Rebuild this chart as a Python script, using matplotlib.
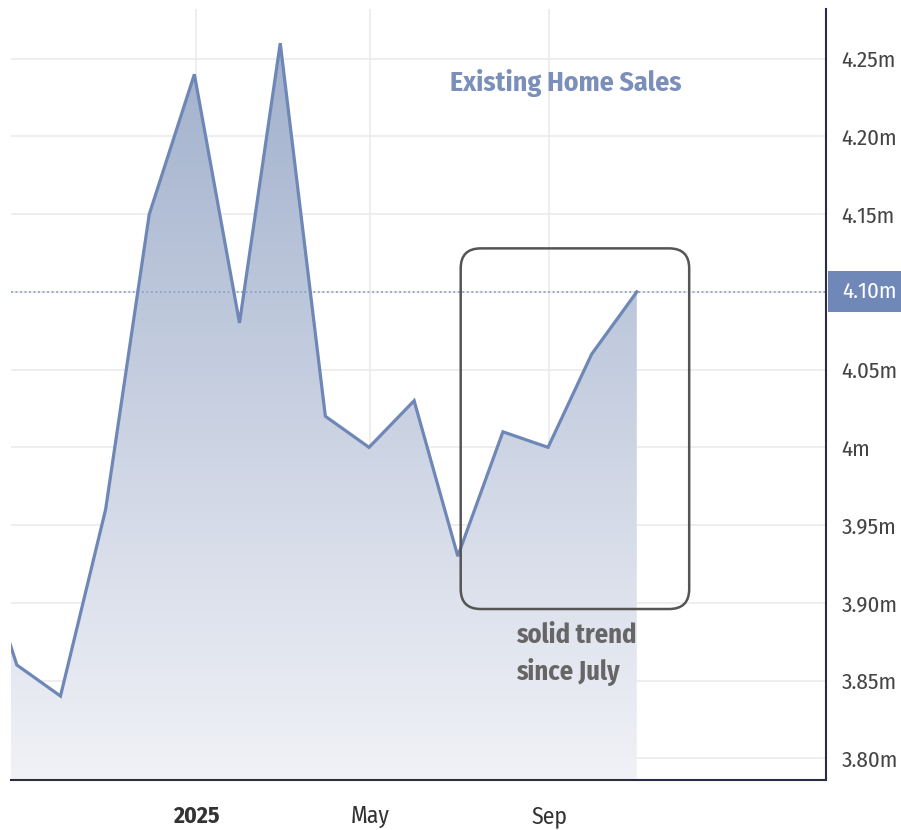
import numpy as np
import pandas as pd
import matplotlib
matplotlib.use('Agg')
import matplotlib.pyplot as plt
import matplotlib.dates as mdates
from matplotlib.patches import FancyBboxPatch, Polygon, Rectangle
from matplotlib.colors import LinearSegmentedColormap

# Monthly existing home sales (millions), plotted at month end
months = pd.date_range('2024-07-31', '2025-10-31', freq='ME')
sales = [3.95, 3.86, 3.84, 3.96, 4.15, 4.24, 4.08, 4.26, 4.02, 4.00,
         4.03, 3.93, 4.01, 4.00, 4.06, 4.10]

ytick_vals = [3.80, 3.85, 3.90, 3.95, 4.00, 4.05, 4.10, 4.15, 4.20, 4.25]
ytick_labels = ['3.80m', '3.85m', '3.90m', '3.95m', '4m', '4.05m', '', '4.15m', '4.20m', '4.25m']
xtick_dates = ['2025-01-01', '2025-05-01', '2025-09-01']
xtick_labels = ['2025', 'May', 'Sep']
last_value = 4.10

plt.rcParams['font.family'] = ['Fira Sans Condensed', 'Roboto Condensed', 'Saira SemiCondensed', 'DejaVu Sans']

LINE = '#6e87b6'
fig = plt.figure(figsize=(9.01, 8.30), dpi=100)
ax = fig.add_axes([11 / 901, 50 / 830, 815 / 901, 771 / 830])

x = mdates.date2num(months)
x0, x1 = mdates.date2num(pd.Timestamp('2024-08-27')), mdates.date2num(pd.Timestamp('2026-03-10'))
y0, y1 = 3.786, 4.282
ax.set_xlim(x0, x1)
ax.set_ylim(y0, y1)

# gradient area under the line
poly = Polygon(np.vstack([np.column_stack([x, sales]), [[x[-1], y0], [x[0], y0]]]),
               closed=True, facecolor='none', edgecolor='none')
ax.add_patch(poly)
cmap = LinearSegmentedColormap.from_list('fill', ['#f1f2f7', '#9dadca'])
grad = np.linspace(0, 1, 256).reshape(-1, 1)
im = ax.imshow(grad, cmap=cmap, aspect='auto', origin='lower',
               extent=[x0, x1, y0, y1], zorder=1)
im.set_clip_path(poly)

ax.plot(x, sales, color=LINE, lw=2.3, zorder=3, solid_joinstyle='miter')
ax.axhline(last_value, color='#8ea2c6', lw=1.3, ls=(0, (1, 1.5)), zorder=2)

# grid
ax.set_yticks(ytick_vals)
ax.set_yticklabels(ytick_labels)
ax.set_xticks(mdates.date2num(pd.to_datetime(xtick_dates)))
ax.set_xticklabels(xtick_labels)
ax.grid(True, color='#ebebeb', lw=1.2, zorder=0)
ax.set_axisbelow(True)

ax.yaxis.tick_right()
ax.tick_params(axis='y', length=0, pad=11, labelsize=16.5, labelcolor='#444444')
ax.tick_params(axis='x', length=0, pad=18, labelsize=17, labelcolor='#333333')
ax.get_xticklabels()[0].set_fontweight('bold')

for s in ['top', 'left']:
    ax.spines[s].set_visible(False)
for s in ['right', 'bottom']:
    ax.spines[s].set_color('#2b2d42')
    ax.spines[s].set_linewidth(1.5)

# highlighted last value label
trans = ax.get_yaxis_transform()
ax.add_patch(Rectangle((1.002, last_value - 0.0132), 0.2, 0.0264, transform=trans,
                       facecolor='#7088b8', edgecolor='none', clip_on=False))
ax.text(1.0 + 16 / 815, last_value, '4.10m', transform=trans, ha='left', va='center',
        fontsize=16.5, color='white', clip_on=False)

# annotation box
bx0 = mdates.date2num(pd.Timestamp('2025-07-02'))
bx1 = mdates.date2num(pd.Timestamp('2025-12-06'))
by0, by1 = 3.896, 4.128
px_x = (x1 - x0) / 815
px_y = (y1 - y0) / 771
box = FancyBboxPatch((bx0, by0), bx1 - bx0, by1 - by0,
                     boxstyle='round,pad=0,rounding_size=%f' % (20 * px_x),
                     mutation_aspect=px_y / px_x,
                     facecolor='none', edgecolor='#555555', lw=1.8, zorder=4)
ax.add_patch(box)

ax.text((516 - 11) / 815, (780 - 622) / 771, 'solid trend\nsince July', transform=ax.transAxes,
        ha='left', va='top', fontsize=19, fontweight='bold', color='#666666',
        linespacing=1.45, zorder=5)

ax.text((566 - 11) / 815, (780 - 83) / 771, 'Existing Home Sales', transform=ax.transAxes,
        ha='center', va='center', fontsize=20, fontweight='bold', color='#7b8fba', zorder=5)

fig.savefig('out.png', dpi=100)
